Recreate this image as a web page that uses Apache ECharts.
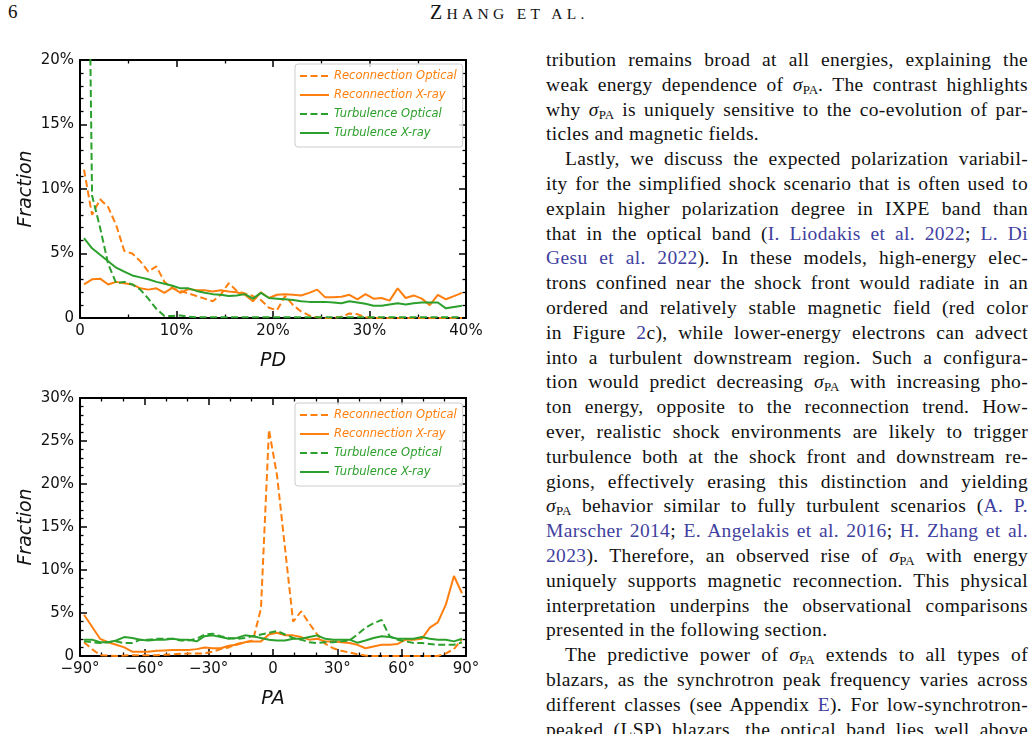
<!DOCTYPE html>
<html>
<head>
<meta charset="utf-8">
<script src="https://cdn.jsdelivr.net/npm/echarts@6/dist/echarts.min.js"></script>
<style>
html, body { margin: 0; padding: 0; background: #fff; width: 1036px; height: 734px; overflow: hidden; }
#chart { position: absolute; left: 0; top: 0; width: 530px; height: 734px; }
.serif { font-family: "Liberation Serif", "DejaVu Serif", serif; color: #111; }
#pagenum { position: absolute; left: 8px; top: 1px; font-size: 19px; }
#head { position: absolute; left: 430px; top: 1px; font-size: 20px; letter-spacing: 4.3px; white-space: nowrap; }
#head span { font-size: 15.5px; }
#col { position: absolute; left: 546px; top: 48px; width: 482px; font-size: 19.5px; line-height: 24.8px; letter-spacing: 0.35px; }
#col div { text-align: justify; text-align-last: justify; height: 24.8px; }
#col div.end { text-align-last: left; }
#col div.ind { text-indent: 19px; }
.c { color: #3f3fa0; }
sub { font-size: 13px; vertical-align: -3px; line-height: 0; letter-spacing: 0; }
</style>
</head>
<body>
<div id="pagenum" class="serif">6</div>
<div id="head" class="serif">Z<span>HANG ET AL.</span></div>
<div id="chart"></div>
<div id="col" class="serif">
<div>tribution remains broad at all energies, explaining the</div>
<div>weak energy dependence of <i>σ</i><sub>PA</sub>. The contrast highlights</div>
<div>why <i>σ</i><sub>PA</sub> is uniquely sensitive to the co-evolution of par-</div>
<div class="end">ticles and magnetic fields.</div>
<div class="ind">Lastly, we discuss the expected polarization variabil-</div>
<div>ity for the simplified shock scenario that is often used to</div>
<div>explain higher polarization degree in IXPE band than</div>
<div>that in the optical band (<span class="c">I. Liodakis et al. 2022</span>; <span class="c">L. Di</span></div>
<div><span class="c">Gesu et al. 2022</span>). In these models, high-energy elec-</div>
<div>trons confined near the shock front would radiate in an</div>
<div>ordered and relatively stable magnetic field (red color</div>
<div>in Figure <span class="c">2</span>c), while lower-energy electrons can advect</div>
<div>into a turbulent downstream region. Such a configura-</div>
<div>tion would predict decreasing <i>σ</i><sub>PA</sub> with increasing pho-</div>
<div>ton energy, opposite to the reconnection trend. How-</div>
<div>ever, realistic shock environments are likely to trigger</div>
<div>turbulence both at the shock front and downstream re-</div>
<div>gions, effectively erasing this distinction and yielding</div>
<div><i>σ</i><sub>PA</sub> behavior similar to fully turbulent scenarios (<span class="c">A. P.</span></div>
<div><span class="c">Marscher 2014</span>; <span class="c">E. Angelakis et al. 2016</span>; <span class="c">H. Zhang et al.</span></div>
<div><span class="c">2023</span>). Therefore, an observed rise of <i>σ</i><sub>PA</sub> with energy</div>
<div>uniquely supports magnetic reconnection. This physical</div>
<div>interpretation underpins the observational comparisons</div>
<div class="end">presented in the following section.</div>
<div class="ind">The predictive power of <i>σ</i><sub>PA</sub> extends to all types of</div>
<div>blazars, as the synchrotron peak frequency varies across</div>
<div>different classes (see Appendix <span class="c">E</span>). For low-synchrotron-</div>
<div>peaked (LSP) blazars, the optical band lies well above</div>
</div>
<script>
// keep every text line on one row
document.querySelectorAll('#col div').forEach(function (d) {
  var ls = 0.35;
  while (d.scrollHeight > 30 && ls > -1) {
    ls -= 0.05;
    d.style.letterSpacing = ls + 'px';
  }
});

// bin centres
var pdBins = [0.417, 1.25, 2.083, 2.917, 3.75, 4.583, 5.417, 6.25, 7.083, 7.917, 8.75, 9.583,
  10.417, 11.25, 12.083, 12.917, 13.75, 14.583, 15.417, 16.25, 17.083, 17.917, 18.75, 19.583,
  20.417, 21.25, 22.083, 22.917, 23.75, 24.583, 25.417, 26.25, 27.083, 27.917, 28.75, 29.583,
  30.417, 31.25, 32.083, 32.917, 33.75, 34.583, 35.417, 36.25, 37.083, 37.917, 38.75, 39.583];
var paBins = [-88.125, -84.375, -80.625, -76.875, -73.125, -69.375, -65.625, -61.875, -58.125, -54.375,
  -50.625, -46.875, -43.125, -39.375, -35.625, -31.875, -28.125, -24.375, -20.625, -16.875,
  -13.125, -9.375, -5.625, -1.875, 1.875, 5.625, 9.375, 13.125, 16.875, 20.625,
  24.375, 28.125, 31.875, 35.625, 39.375, 43.125, 46.875, 50.625, 54.375, 58.125,
  61.875, 65.625, 69.375, 73.125, 76.875, 80.625, 84.375, 88.125];

// PD distributions (%)
var recOptPD = [11.5, 8.0, 9.2, 8.6, 7.2, 5.2, 5.0, 4.4, 3.6, 4.0, 2.8, 2.3, 2.1, 1.9, 1.7, 1.5,
  1.3, 1.8, 2.7, 2.1, 1.9, 1.7, 1.4, 0.8, 0.6, 1.7, 1.0, 0.5, 0.2, 0.05, 0, 0,
  0.1, 0.35, 0.3, 0.05, 0, 0, 0, 0, 0, 0, 0, 0, 0, 0, 0, 0];
var recXPD = [2.6, 3.0, 3.05, 2.6, 2.8, 2.7, 2.6, 2.3, 2.2, 2.3, 1.95, 2.35, 1.95, 2.25, 2.15, 2.15,
  2.05, 2.15, 2.05, 2.0, 1.8, 1.3, 2.0, 1.55, 1.8, 1.85, 1.8, 1.75, 1.95, 2.2, 1.6, 1.6,
  1.65, 1.8, 1.45, 1.85, 1.5, 1.55, 1.35, 2.3, 1.55, 1.75, 1.5, 1.0, 1.8, 1.45, 1.7, 1.95];
var turbOptPD = [60, 9.5, 7.0, 4.2, 2.7, 2.8, 2.6, 2.2, 1.5, 0.7, 0.15, 0.15, 0.2, 0.1, 0.05, 0.05,
  0.05, 0.05, 0.05, 0.05, 0.05, 0.05, 0.05, 0.05, 0.05, 0.05, 0.05, 0.05, 0.05, 0.05, 0.05, 0.05,
  0.05, 0.05, 0.05, 0.05, 0.05, 0.05, 0.05, 0.05, 0.05, 0.05, 0.05, 0.05, 0.05, 0.05, 0.05, 0.05];
var turbXPD = [6.2, 5.4, 4.9, 4.4, 3.9, 3.6, 3.3, 3.15, 3.0, 2.8, 2.65, 2.5, 2.3, 2.3, 2.1, 1.95,
  1.85, 1.8, 1.7, 1.75, 1.85, 1.5, 1.95, 1.55, 1.5, 1.45, 1.4, 1.3, 1.25, 1.25, 1.25, 1.2,
  1.15, 1.3, 1.2, 1.1, 0.95, 0.95, 1.05, 1.15, 1.05, 1.15, 1.2, 1.2, 1.2, 0.75, 0.85, 0.95];

// PA distributions (%)
var recOptPA = [1.6, 0.8, 0.1, 0.05, 0, 0.05, 0.1, 0.1, 0.1, 0.1, 0.15, 0.2, 0.25, 0.3, 0.3, 0.3,
  0.5, 0.8, 1.0, 1.4, 1.6, 1.8, 5.5, 26.3, 21.0, 12.5, 4.0, 5.2, 3.8, 2.5, 1.4, 0.9,
  0.6, 0.4, 0.2, 0.05, 0, 0, 0, 0, 0, 0, 0, 0, 0, 0.3, 0.8, 2.0];
var recXPA = [4.8, 3.4, 2.0, 1.6, 1.3, 1.0, 0.5, 0.5, 0.5, 0.6, 0.65, 0.7, 0.7, 0.7, 0.8, 1.0,
  0.9, 0.9, 1.2, 1.3, 1.6, 1.7, 1.7, 2.5, 2.7, 2.4, 2.4, 2.2, 1.9, 2.0, 1.7, 1.7,
  1.6, 1.5, 1.3, 0.9, 1.1, 1.3, 1.3, 1.4, 1.9, 1.9, 2.0, 3.3, 3.9, 6.0, 9.3, 7.3];
var turbOptPA = [1.7, 1.6, 1.5, 1.6, 1.7, 1.5, 1.5, 1.9, 1.9, 2.0, 2.0, 2.0, 1.8, 1.8, 2.0, 2.5,
  2.6, 2.3, 2.1, 2.0, 2.1, 2.3, 2.5, 2.7, 2.9, 2.5, 2.1, 1.9, 1.6, 1.5, 1.6, 1.6,
  1.7, 1.8, 2.5, 3.3, 3.8, 4.2, 2.3, 1.9, 1.7, 1.5, 1.5, 1.4, 1.3, 1.3, 1.3, 1.6];
var turbXPA = [1.9, 1.9, 1.6, 1.6, 1.8, 2.2, 2.1, 1.9, 1.8, 1.9, 1.9, 2.0, 1.9, 1.9, 1.7, 2.3,
  2.4, 2.2, 2.0, 2.1, 2.4, 2.3, 2.1, 1.9, 1.8, 1.8, 2.0, 2.0, 2.2, 2.4, 2.0, 1.9,
  1.9, 1.9, 1.55, 1.8, 2.1, 2.3, 2.2, 2.0, 2.0, 2.0, 2.2, 2.0, 1.9, 1.9, 1.7, 2.0];

var seriesNames = ['Reconnection Optical', 'Reconnection X-ray', 'Turbulence Optical', 'Turbulence X-ray'];
var orange = '#ff7f0e', green = '#2ca02c';
var seriesColors = [orange, orange, green, green];
var seriesDashed = [true, false, true, false];
var font = 'DejaVu Sans';

var chart = echarts.init(document.getElementById('chart'));

function pairs(xs, ys) {
  return xs.map(function (x, i) { return [x, ys[i]]; });
}
function pctLabel(v) { return v === 0 ? '0' : v + '%'; }
function degLabel(v) { return v === 0 ? '0' : (v < 0 ? '\u2212' + (-v) : v) + '\u00b0'; }

function makeAxis(gi, pos, min, max, interval, minorSplit, fmt, name, nameGap) {
  var ax = {
    type: 'value', gridIndex: gi, position: pos, min: min, max: max, interval: interval,
    axisLine: { show: true, onZero: false, lineStyle: { color: '#000', width: 2 } },
    axisTick: { show: true, inside: true, length: 7, lineStyle: { color: '#000', width: 1.5 } },
    minorTick: { show: true, splitNumber: minorSplit, length: 3.5, lineStyle: { color: '#000', width: 1.3 } },
    splitLine: { show: false },
    minorSplitLine: { show: false },
    axisLabel: { show: !!fmt, formatter: fmt, fontFamily: font, fontSize: 15, color: '#111', margin: 6 }
  };
  if (name) {
    ax.name = name;
    ax.nameLocation = 'middle';
    ax.nameGap = nameGap;
    ax.nameMoveOverlap = false;
    ax.nameTextStyle = { fontFamily: font, fontStyle: 'italic', fontSize: 19, color: '#111' };
  }
  return ax;
}

function legendFor(top) {
  return {
    left: 295, top: top, orient: 'vertical', selectedMode: false,
    itemWidth: 29, itemHeight: 14, itemGap: 7,
    padding: [6, 6, 8, 4],
    backgroundColor: 'rgba(255,255,255,0.8)', borderColor: '#cccccc', borderWidth: 1, borderRadius: 3,
    itemStyle: { opacity: 0 },
    textStyle: { fontFamily: font, fontStyle: 'italic', fontSize: 11.5 },
    data: seriesNames.map(function (n, i) { return { name: n, textStyle: { color: seriesColors[i] } }; })
  };
}

function makeSeries(axisIndex, bins, arrays) {
  return arrays.map(function (arr, i) {
    return {
      name: seriesNames[i], type: 'line', xAxisIndex: axisIndex, yAxisIndex: axisIndex,
      data: pairs(bins, arr), symbol: 'none', showSymbol: false, animation: false,
      lineStyle: { color: seriesColors[i], width: 2, type: seriesDashed[i] ? [7, 3.5] : 'solid' },
      itemStyle: { color: seriesColors[i] }
    };
  });
}

var option = {
  animation: false,
  grid: [
    { left: 80, top: 60, width: 386, height: 258 },
    { left: 80, top: 398, width: 386, height: 258 }
  ],
  legend: [legendFor(64), legendFor(403)],
  xAxis: [
    makeAxis(0, 'bottom', 0, 40, 10, 2, pctLabel, 'PD', 34),
    makeAxis(1, 'bottom', -90, 90, 30, 3, degLabel, 'PA', 34),
    makeAxis(0, 'top', 0, 40, 10, 2, null),
    makeAxis(1, 'top', -90, 90, 30, 3, null)
  ],
  yAxis: [
    makeAxis(0, 'left', 0, 20, 5, 5, pctLabel, 'Fraction', 44),
    makeAxis(1, 'left', 0, 30, 5, 5, pctLabel, 'Fraction', 44),
    makeAxis(0, 'right', 0, 20, 5, 5, null),
    makeAxis(1, 'right', 0, 30, 5, 5, null)
  ],
  series: makeSeries(0, pdBins, [recOptPD, recXPD, turbOptPD, turbXPD])
    .concat(makeSeries(1, paBins, [recOptPA, recXPA, turbOptPA, turbXPA]))
};
chart.setOption(option);
</script>
</body>
</html>
